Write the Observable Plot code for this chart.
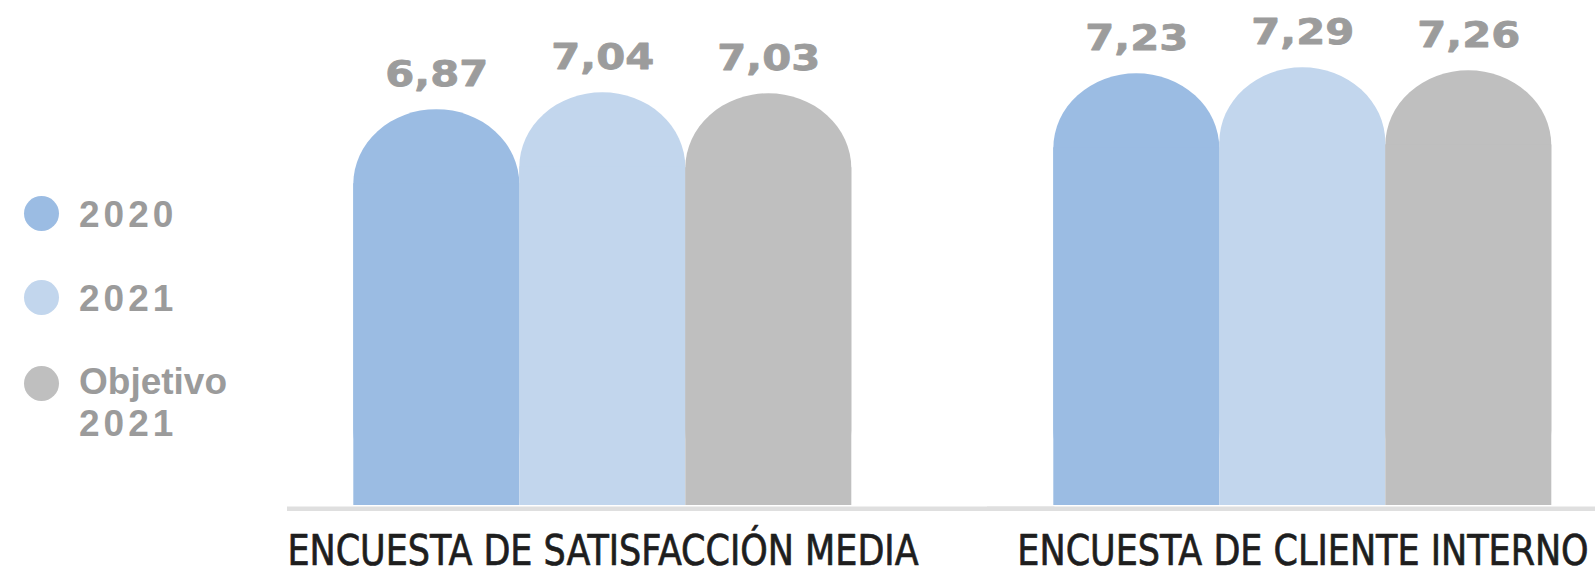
<!DOCTYPE html>
<html>
<head>
<meta charset="utf-8">
<script src="https://cdn.jsdelivr.net/npm/d3@7"></script>
<script src="https://cdn.jsdelivr.net/npm/@observablehq/plot@0.6"></script>
<style>
  html, body { margin: 0; padding: 0; background: #ffffff; }
  #wrap { position: relative; width: 1595px; height: 567px; overflow: hidden; }
  #chart { position: absolute; left: 0; top: 0; }
  .legend-item { position: absolute; left: 24px; display: flex; align-items: flex-start; }
  .legend-swatch { width: 35px; height: 35px; border-radius: 50%; flex: none; }
  .legend-text { margin-left: 20px; font-family: "Liberation Sans", Arial, sans-serif; font-weight: bold; font-size: 37px; line-height: 42px; color: #9b9b9b; }
  .legend-text .num { letter-spacing: 4px; }
</style>
</head>
<body>
<div id="wrap">
  <div id="chart"></div>
  <div id="legend"></div>
</div>
<script>
// ---- data ----
const groups = ["ENCUESTA DE SATISFACCIÓN MEDIA", "ENCUESTA DE CLIENTE INTERNO"];
const series = ["2020", "2021", "Objetivo 2021"];
const legendLines = [["2020"], ["2021"], ["Objetivo", "2021"]];
const values2020 = [6.87, 7.23];
const values2021 = [7.04, 7.29];
const valuesObjetivo = [7.03, 7.26];
const colors = ["#9bbce3", "#c2d6ed", "#bfbfbf"];

const seriesValues = [values2020, values2021, valuesObjetivo];
const data = groups.flatMap((g, i) =>
  series.map((s, j) => ({group: g, series: s, value: seriesValues[j][i]}))
);

const yBase = 2.9;
const fmt = v => v.toFixed(2).replace(".", ",");

const chart = Plot.plot({
  width: 1595,
  height: 567,
  marginLeft: 352.7,
  marginRight: 41.7,
  marginTop: 0,
  marginBottom: 62,
  fx: {domain: groups, paddingInner: 0.287, paddingOuter: 0, axis: null},
  x: {domain: series, padding: 0, axis: null},
  y: {domain: [yBase, 7.29], range: [505, 67.3], axis: null},
  color: {domain: series, range: colors},
  marks: [
    // baseline (drawn in each facet, overlapping across the gap)
    Plot.ruleY([yBase], {stroke: "#dfdfdf", strokeWidth: 4.5, dy: 3.3, insetLeft: -66, insetRight: -202.4}),
    // rounded (elliptical) top
    Plot.barY(data, {fx: "group", x: "series", y1: yBase, y2: "value", fill: "series", rx: 83, ry: 75}),
    // square lower part, covering the rounded bottom corners
    Plot.barY(data, {fx: "group", x: "series", y1: yBase, y2: "value", fill: "series", insetTop: 74}),
    // value labels
    Plot.text(data, {
      fx: "group", x: "series", y: "value",
      text: d => fmt(d.value),
      dy: -24, lineAnchor: "bottom",
      fontFamily: "DejaVu Sans", fontWeight: "bold", fontSize: 36,
      fill: "#9c9c9c", stroke: "#9c9c9c", strokeWidth: 0.8
    }),
    // group labels
    Plot.text(groups, {
      fx: d => d, text: d => d,
      frameAnchor: "bottom", lineAnchor: "bottom", dy: 59,
      fontFamily: "'Liberation Sans Narrow', 'Arial Narrow', 'DejaVu Sans Condensed', sans-serif",
      fontSize: 42, fill: "#1e1e1e", stroke: "#1e1e1e", strokeWidth: 0.7
    })
  ]
});
document.getElementById("chart").appendChild(chart);

// horizontal glyph scaling to mimic the reference typefaces
function stretch(selector, factor) {
  d3.select(chart).selectAll(selector).each(function() {
    const w = this.getComputedTextLength();
    this.setAttribute("textLength", (w * factor).toFixed(1));
    this.setAttribute("lengthAdjust", "spacingAndGlyphs");
  });
}
stretch("g[font-size='42'] text", 0.926);
stretch("g[font-size='36'] text", 1.16);

// ---- legend ----
const legendTops = [194, 278, 361];
const legend = document.getElementById("legend");
series.forEach((s, i) => {
  const item = document.createElement("div");
  item.className = "legend-item";
  item.style.top = legendTops[i] + "px";
  const sw = document.createElement("div");
  sw.className = "legend-swatch";
  sw.style.background = colors[i];
  sw.style.marginTop = (i === 2 ? 5 : 2) + "px";
  const tx = document.createElement("div");
  tx.className = "legend-text";
  legendLines[i].forEach(line => {
    const ln = document.createElement("div");
    if (/^\d+$/.test(line)) ln.className = "num";
    ln.textContent = line;
    tx.appendChild(ln);
  });
  item.appendChild(sw);
  item.appendChild(tx);
  legend.appendChild(item);
});
</script>
</body>
</html>
